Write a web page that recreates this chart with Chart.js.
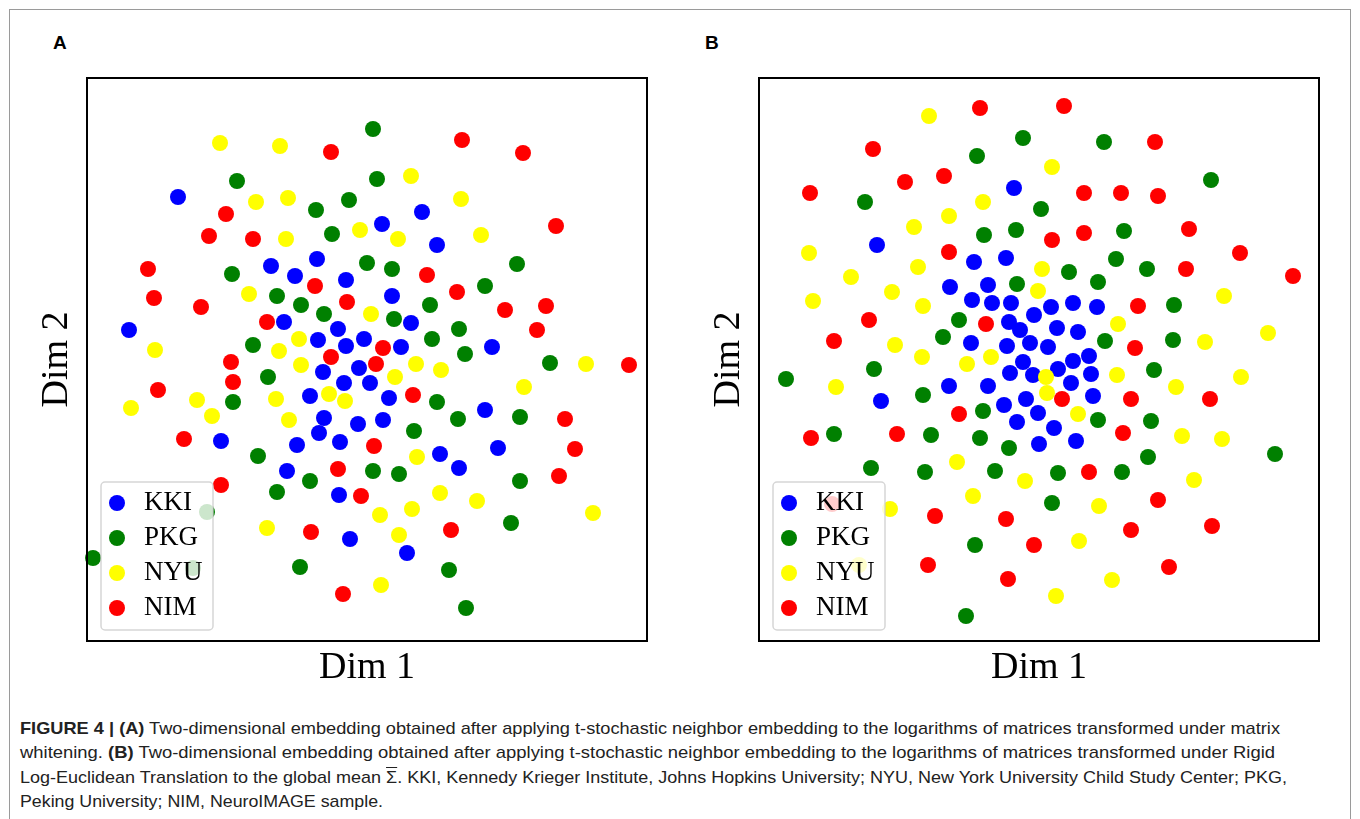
<!DOCTYPE html>
<html>
<head>
<meta charset="utf-8">
<script src="https://cdn.jsdelivr.net/npm/chart.js@4.4.1/dist/chart.umd.min.js"></script>
<style>
  html, body { margin: 0; padding: 0; background: #fff; }
  body { width: 1360px; height: 819px; position: relative; overflow: hidden; }
  #frame { position: absolute; left: 9px; top: 9px; width: 1342px; height: 900px;
           border: 1px solid #9a9a9a; box-sizing: border-box; }
  .panel { position: absolute; font-family: "Liberation Sans", Arial, sans-serif;
           font-weight: bold; font-size: 19px; line-height: 19px; color: #000; }
  canvas { position: absolute; }
  .cap { position: absolute; left: 20px; font-family: "Liberation Sans Narrow", "Liberation Sans", sans-serif;
         font-size: 17px; line-height: 17px; color: #222; white-space: nowrap; transform-origin: 0 0; }
  .bar { text-decoration: overline; }
</style>
</head>
<body>
<div id="frame"></div>
<div class="panel" style="left:53px; top:33px;">A</div>
<div class="panel" style="left:705px; top:33px;">B</div>
<canvas id="chartA" width="650" height="630" style="left:10px; top:70px;"></canvas>
<canvas id="chartB" width="650" height="630" style="left:682px; top:70px;"></canvas>

<div class="cap" style="top:720px;"><b>FIGURE 4 | (A)</b> Two-dimensional embedding obtained after applying t-stochastic neighbor embedding to the logarithms of matrices transformed under matrix</div>
<div class="cap" style="top:744px;">whitening. <b>(B)</b> Two-dimensional embedding obtained after applying t-stochastic neighbor embedding to the logarithms of matrices transformed under Rigid</div>
<div class="cap" style="top:769px;">Log-Euclidean Translation to the global mean <span class="bar">Σ</span>. KKI, Kennedy Krieger Institute, Johns Hopkins University; NYU, New York University Child Study Center; PKG,</div>
<div class="cap" style="top:793px;">Peking University; NIM, NeuroIMAGE sample.</div>

<script>
// Site labels and colours
const groupLabels = ['KKI', 'PKG', 'NYU', 'NIM'];
const groupColors = ['#0000ff', '#008000', '#ffff00', '#ff0000'];

// Axis limits (t-SNE units, no ticks shown)
const dim1Range = [-280, 280];
const dim2Range = [-281, 282];

// (A) embedding after matrix whitening: [Dim 1, Dim 2]
const kkiA = [[-189,163],[-50,101],[-96,94],[-72,84],[-21,80],[-83,38],[-29,31],[-49,20],[-3,21],[-238,30],
  [-21,14],[15,136],[55,148],[70,115],[25,64],[44,37],[34,13],[125,13],[-44,-12],[-8,-8],
  [-23,-23],[3,-23],[-57,-36],[-43,-58],[-9,-64],[-48,-73],[-146,-81],[-70,-85],[-27,-82],[-80,-111],
  [-28,-135],[-17,-179],[22,-38],[118,-50],[16,-60],[131,-88],[73,-94],[92,-108],[40,-193]];
const pkgA = [[6,231],[-130,179],[-18,160],[-51,150],[-35,126],[10,181],[0,97],[-135,86],[-90,64],[-66,55],
  [-43,46],[-114,15],[25,91],[150,96],[118,74],[63,55],[27,41],[92,31],[65,21],[98,6],
  [183,-3],[-99,-17],[-134,-42],[-109,-96],[-57,-121],[6,-111],[-90,-132],[-160,-152],[-274,-198],[-174,-208],
  [-67,-207],[70,-42],[91,-59],[153,-57],[47,-71],[32,-114],[153,-121],[144,-163],[82,-210],[99,-248]];
const nyuA = [[-147,217],[-87,214],[-111,158],[-79,162],[-81,121],[-7,130],[-118,66],[4,46],[-68,21],[-212,10],
  [-88,9],[-66,-5],[44,184],[94,161],[31,121],[114,125],[49,-4],[219,-4],[-170,-40],[-236,-48],
  [-91,-39],[-38,-34],[-22,-41],[-155,-56],[-78,-60],[-100,-168],[28,-17],[74,-10],[157,-27],[50,-97],
  [13,-155],[45,-149],[73,-133],[110,-141],[226,-153],[32,-175],[14,-225]];
const nimA = [[-36,208],[-141,146],[-158,124],[-114,121],[-219,91],[-52,74],[-213,62],[-166,53],[-20,58],[-100,38],
  [-36,3],[-136,-2],[95,220],[156,207],[189,134],[60,85],[90,68],[138,50],[179,54],[170,30],
  [16,12],[9,-4],[262,-5],[-134,-22],[-209,-30],[-183,-79],[7,-86],[-29,-109],[-146,-125],[-6,-136],
  [-56,-172],[-24,-234],[46,-35],[198,-59],[208,-89],[192,-116],[84,-170]];

// (B) embedding after Rigid Log-Euclidean Translation: [Dim 1, Dim 2]
const kkiB = [[-25,172],[-162,115],[-65,98],[-33,102],[-89,73],[-51,75],[-67,60],[-47,57],[-28,57],[-5,45],
  [12,53],[34,57],[58,53],[-30,38],[-19,30],[18,32],[39,28],[-68,17],[-32,14],[-9,17],
  [9,13],[-16,-2],[34,-1],[50,4],[-29,-13],[-6,-15],[19,-9],[52,-14],[32,-23],[-90,-26],
  [-51,-26],[-13,-39],[54,-36],[-35,-45],[-1,-53],[-22,-62],[15,-68],[0,-84],[37,-81],[-158,-41]];
const pkgB = [[-16,222],[-62,204],[-174,158],[2,151],[-55,125],[-23,130],[-22,76],[-80,40],[-96,23],[65,218],
  [172,180],[85,129],[77,101],[30,88],[59,78],[108,91],[135,55],[66,19],[134,20],[-253,-19],
  [-165,-9],[-116,-35],[-56,-51],[-205,-74],[-108,-75],[-59,-78],[-30,-88],[-168,-108],[-114,-112],[-44,-111],
  [-64,-185],[-73,-256],[115,-10],[59,-60],[112,-61],[236,-94],[109,-97],[19,-113],[83,-112],[13,-143]];
const nyuB = [[-110,244],[-56,158],[-90,144],[-125,133],[-230,107],[-188,83],[-121,93],[-147,68],[-226,59],[-116,54],
  [-144,15],[-117,3],[-72,-4],[-48,3],[13,193],[3,91],[-1,69],[185,64],[79,36],[166,18],
  [229,27],[-203,-27],[-82,-102],[-14,-121],[-66,-136],[-149,-149],[-180,-205],[7,-17],[8,-33],[78,-15],
  [202,-17],[137,-27],[39,-54],[143,-76],[183,-79],[155,-120],[60,-146],[40,-181],[73,-220],[17,-236]];
const nimB = [[-59,252],[-166,211],[-134,178],[-95,184],[-229,167],[-90,108],[-170,40],[-53,36],[-205,19],[25,254],
  [116,218],[45,167],[82,167],[119,164],[13,120],[45,127],[150,131],[201,107],[147,91],[254,84],
  [99,54],[96,12],[-80,-54],[-228,-78],[-142,-74],[-207,-144],[-104,-156],[-33,-159],[-5,-185],[-111,-205],
  [-31,-219],[23,-39],[92,-39],[171,-39],[84,-73],[50,-112],[119,-140],[92,-170],[173,-166],[130,-207]];

// Axes frame on top of the points, then a semi-transparent legend box
const frameAndLegend = {
  id: 'frameAndLegend',
  afterDatasetsDraw(chart) {
    const { ctx, chartArea: a } = chart;
    ctx.save();
    ctx.strokeStyle = '#000';
    ctx.lineWidth = 2;
    ctx.strokeRect(a.left, a.top, a.right - a.left, a.bottom - a.top);

    const bx = a.left + 14, by = a.bottom - 159, bw = 112, bh = 148, r = 4;
    ctx.beginPath();
    ctx.moveTo(bx + r, by);
    ctx.arcTo(bx + bw, by, bx + bw, by + bh, r);
    ctx.arcTo(bx + bw, by + bh, bx, by + bh, r);
    ctx.arcTo(bx, by + bh, bx, by, r);
    ctx.arcTo(bx, by, bx + bw, by, r);
    ctx.closePath();
    ctx.fillStyle = 'rgba(255,255,255,0.8)';
    ctx.fill();
    ctx.strokeStyle = 'rgba(204,204,204,0.8)';
    ctx.lineWidth = 1.5;
    ctx.stroke();

    chart.data.datasets.forEach((ds, i) => {
      const cy = by + 21 + i * 35;
      ctx.beginPath();
      ctx.arc(bx + 16, cy, 8, 0, Math.PI * 2);
      ctx.fillStyle = ds.backgroundColor;
      ctx.fill();
      ctx.fillStyle = '#000';
      ctx.font = '27px "Liberation Serif", serif';
      ctx.textBaseline = 'alphabetic';
      ctx.fillText(ds.label, bx + 43, cy + 7);
    });
    ctx.restore();
  }
};

const titleFont = { family: '"Liberation Serif", serif', size: 38, lineHeight: 1 };

function makeChart(id, sets) {
  return new Chart(document.getElementById(id), {
    type: 'scatter',
    data: {
      datasets: sets.map((pts, i) => ({
        label: groupLabels[i],
        data: pts.map(p => ({ x: p[0], y: p[1] })),
        backgroundColor: groupColors[i],
        pointBackgroundColor: groupColors[i],
        pointBorderWidth: 0,
        borderWidth: 0,
        pointRadius: 8,
        pointHoverRadius: 8,
        order: sets.length - i,
        clip: false
      }))
    },
    options: {
      responsive: false,
      animation: false,
      devicePixelRatio: 1,
      events: [],
      layout: { padding: { top: 8, right: 13, left: 0, bottom: 0 } },
      plugins: { legend: { display: false }, tooltip: { enabled: false } },
      scales: {
        x: {
          type: 'linear', min: dim1Range[0], max: dim1Range[1],
          ticks: { display: false }, grid: { display: false }, border: { display: false },
          title: { display: true, text: 'Dim 1', color: '#000', font: titleFont, padding: { top: 0, bottom: 13 } },
          afterFit: s => { s.height = 59; }
        },
        y: {
          type: 'linear', min: dim2Range[0], max: dim2Range[1],
          ticks: { display: false }, grid: { display: false }, border: { display: false },
          title: { display: true, text: 'Dim 2', color: '#000', font: titleFont, padding: { top: 28, bottom: 0 } },
          afterFit: s => { s.width = 77; }
        }
      }
    },
    plugins: [frameAndLegend]
  });
}

makeChart('chartA', [kkiA, pkgA, nyuA, nimA]);
makeChart('chartB', [kkiB, pkgB, nyuB, nimB]);

// Fit each caption line to its column width
const capWidths = [1260, 1255, 1267, 363];
document.querySelectorAll('.cap').forEach((el, i) => {
  const w = el.getBoundingClientRect().width;
  el.style.transform = 'scaleX(' + (capWidths[i] / w) + ')';
});
</script>
</body>
</html>
